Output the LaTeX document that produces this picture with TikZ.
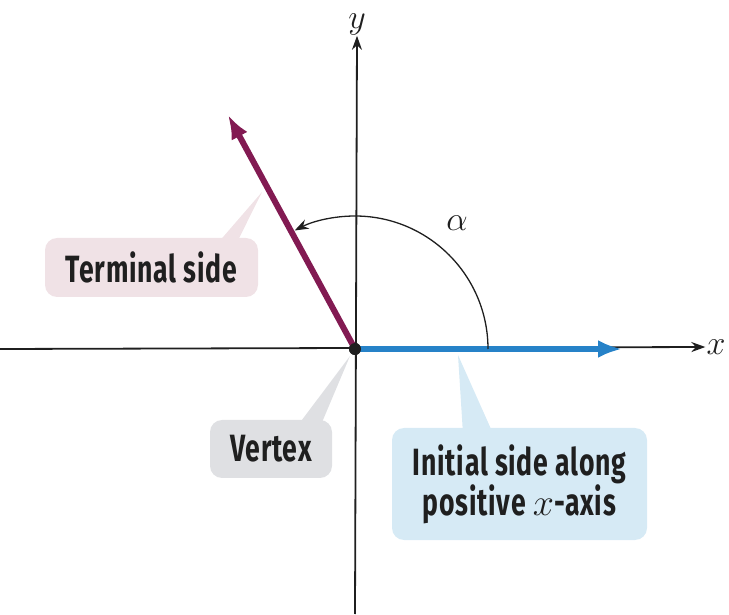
\RequirePackage{fix-cm}
\documentclass[tikz,border=0pt]{standalone}
\usepackage{fontspec}
\usetikzlibrary{arrows.meta}
\newfontfamily\calloutfont{Fira Sans}[FakeStretch=0.7,LetterSpace=2]
\definecolor{termFill}{RGB}{240,226,230}
\definecolor{termStroke}{RGB}{130,26,82}
\definecolor{vertexFill}{RGB}{223,224,227}
\definecolor{initFill}{RGB}{214,234,245}
\definecolor{initStroke}{RGB}{38,130,200}
\colorlet{ink}{black!88}
\tikzset{
  axis/.style={draw=ink, line width=1.8pt, -{Stealth[length=14pt,width=10pt]}},
  side/.style={line width=6pt, -{Latex[length=24pt,width=18pt]}},
  anglearc/.style={draw=ink, line width=1.3pt, -{Stealth[length=14pt,width=10pt]}},
  callout/.style={
    rounded corners=12pt,
    inner sep=0pt,
    align=center,
    text=ink,
    font=\calloutfont\bfseries\fontsize{38}{37}\selectfont
  },
  mathlabel/.style={font=\fontsize{34}{38}\selectfont, text=ink, inner sep=1pt}
}

\begin{document}
\begin{tikzpicture}[x=1pt,y=1pt]
  \useasboundingbox (0,0) rectangle (729,614);

  \coordinate (O) at (355,265);
  \coordinate (xstart) at (0,265);
  \coordinate (ystart) at (355,0);
  \coordinate (termTip) at (228,499);
  \coordinate (initTip) at (622,265);
  \coordinate (termPin) at (262,422);
  \coordinate (vertexPin) at (350,258);
  \coordinate (initPin) at (458,259);

  \node[mathlabel] (xlab) at (716,267) {$x$};
  \node[mathlabel] (ylab) at (357,590) {$y$};
  \draw[axis] (xstart) -- (xlab.west);
  \draw[axis] (ystart) -- (ylab.south);

  \node[callout, fill=termFill, minimum width=213pt, minimum height=59pt] (termBox) at (151.5,346.5) {Terminal side};
  \node[callout, fill=vertexFill, minimum width=122pt, minimum height=58pt] (vertexBox) at (271,165) {Vertex};
  \node[callout, fill=initFill, minimum width=255pt, minimum height=112pt] (initBox) at (519.5,130) {Initial side along\\positive $x$-axis};

  \fill[termFill] ([xshift=175pt,yshift=-3pt]termBox.north west) -- (termPin) -- ([xshift=193pt,yshift=-3pt]termBox.north west) -- cycle;
  \fill[vertexFill] ([xshift=90pt,yshift=-3pt]vertexBox.north west) -- (vertexPin) -- ([xshift=112pt,yshift=-3pt]vertexBox.north west) -- cycle;
  \fill[initFill] ([xshift=71pt,yshift=-3pt]initBox.north west) -- (initPin) -- ([xshift=100pt,yshift=-3pt]initBox.north west) -- cycle;

  \node[circle, fill=ink, minimum size=12pt, inner sep=0pt] (vertex) at (O) {};
  \draw[side, termStroke] (vertex.center) -- (termTip);
  \draw[side, initStroke] (vertex.center) -- (initTip);
  \fill[ink] (vertex) circle (6pt);

  \draw[anglearc] ([shift={(0:133)}]O) arc[start angle=0, end angle=117, radius=133];
  \node[mathlabel] (alpha) at (457,391) {$\alpha$};
\end{tikzpicture}
\end{document}
